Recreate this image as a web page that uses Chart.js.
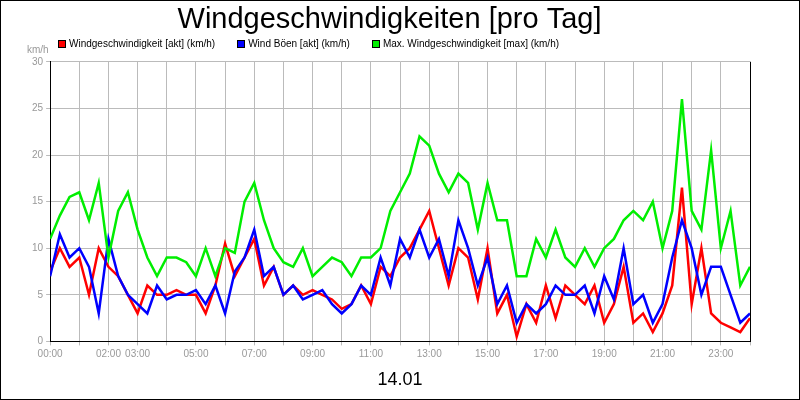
<!DOCTYPE html>
<html>
<head>
<meta charset="utf-8">
<script src="https://cdn.jsdelivr.net/npm/chart.js@4"></script>
<style>
  html, body { margin: 0; padding: 0; background: #fff; }
  #wrap { position: relative; width: 798px; height: 398px; border: 1px solid #000; }
  #unit { position: absolute; left: 26px; top: 43px; font: 10px Arial, "Liberation Sans", sans-serif; color: #999; }
  #legend { position: absolute; left: 57px; top: 37px; font: 10px Arial, "Liberation Sans", sans-serif; color: #000; }
  #legend span { margin-right: 22px; }
  #legend i { display: inline-block; width: 8px; height: 8px; margin-right: 3px; vertical-align: -1px; border: 1px solid #000; box-sizing: border-box; }
</style>
</head>
<body>
<div id="wrap">
  <canvas id="windChart" width="798" height="398"></canvas>
  <div id="unit">km/h</div>
  <div id="legend"></div>
</div>
<script>
  // 20-minute steps, 00:00 .. 24:00
  const hourLabels = ['00:00', '', '02:00', '03:00', '', '05:00', '', '07:00', '', '09:00', '', '11:00', '',
    '13:00', '', '15:00', '', '17:00', '', '19:00', '', '21:00', '', '23:00', ''];
  const windAvg = [7.5, 10, 8, 9, 5, 10, 8, 7, 5, 3, 6, 5, 5, 5.5, 5, 5, 3, 6, 10.5, 7, 9, 11, 6, 8,
    5, 6, 5, 5.5, 5, 4.5, 3.5, 4, 6, 4, 8, 7, 9, 10, 12, 14, 10, 6, 10, 9, 4.5, 10, 3, 5,
    0.5, 4, 2, 6, 2.5, 6, 5, 4, 6, 2, 4, 8, 2, 3, 1, 3, 6, 16.5, 4, 10, 3, 2, 1.5, 1, 2.5];
  const windGust = [7, 11.5, 9, 10, 8, 3, 11, 7, 5, 4, 3, 6, 4.5, 5, 5, 5.5, 4, 6, 3, 7.5, 9, 12, 7, 8,
    5, 6, 4.5, 5, 5.5, 4, 3, 4, 6, 5, 9, 6, 11, 9, 12, 9, 11, 7, 13, 10, 6, 9, 4, 6,
    2, 4, 3, 4, 6, 5, 5, 6, 3, 7, 4.5, 10, 4, 5, 2, 4, 9, 13, 10, 5, 8, 8, 5, 2, 3];
  const windMax = [11, 13.5, 15.5, 16, 13, 17, 9, 14, 16, 12, 9, 7, 9, 9, 8.5, 7, 10, 7, 10, 9.5, 15, 17, 13, 10,
    8.5, 8, 10, 7, 8, 9, 8.5, 7, 9, 9, 10, 14, 16, 18, 22, 21, 18, 16, 18, 17, 12, 17, 13, 13,
    7, 7, 11, 9, 12, 9, 8, 10, 8, 10, 11, 13, 14, 13, 15, 10, 14, 26, 14, 12, 20.5, 10, 14, 6, 8];

  const series = [
    { label: 'Windgeschwindigkeit [akt] (km/h)', values: windAvg, color: '#ff0000' },
    { label: 'Wind Böen [akt] (km/h)', values: windGust, color: '#0000ff' },
    { label: 'Max. Windgeschwindigkeit [max] (km/h)', values: windMax, color: '#00ee00' },
  ];

  document.getElementById('legend').innerHTML = series
    .map((s) => `<span><i style="background:${s.color}"></i>${s.label}</span>`)
    .join('');

  const toPoints = (values) => values.map((v, i) => ({ x: i / 3, y: v }));

  // right edge of plot area
  const rightEdge = {
    id: 'rightEdge',
    afterDraw(chart) {
      const { ctx, chartArea } = chart;
      ctx.save();
      ctx.strokeStyle = '#000';
      ctx.lineWidth = 1;
      ctx.beginPath();
      ctx.moveTo(chartArea.right + 0.5, chartArea.top);
      ctx.lineTo(chartArea.right + 0.5, chartArea.bottom);
      ctx.stroke();
      ctx.restore();
    },
  };

  Chart.defaults.font.family = 'Arial, "Liberation Sans", sans-serif';

  new Chart(document.getElementById('windChart'), {
    type: 'line',
    data: {
      datasets: series.map((s) => ({
        label: s.label,
        data: toPoints(s.values),
        borderColor: s.color,
        backgroundColor: s.color,
        borderWidth: 2.5,
        pointRadius: 0,
        tension: 0,
      })).reverse(),
    },
    plugins: [rightEdge],
    options: {
      responsive: false,
      animation: false,
      layout: { padding: { left: 28, right: 49, top: 0, bottom: 4 } },
      plugins: {
        title: {
          display: true,
          text: 'Windgeschwindigkeiten [pro Tag]',
          color: '#000',
          font: { size: 29, weight: 'normal' },
          padding: { top: 2, bottom: 24 },
        },
        legend: { display: false },
        tooltip: { enabled: false },
      },
      scales: {
        x: {
          type: 'linear',
          min: 0,
          max: 24,
          ticks: {
            stepSize: 1,
            autoSkip: false,
            maxRotation: 0,
            color: '#999',
            font: { size: 10 },
            callback: (value) => hourLabels[value] || '',
          },
          grid: { color: '#bbb', tickLength: 4 },
          border: { color: '#000', width: 1 },
          title: { display: true, text: '14.01', color: '#000', font: { size: 18 }, padding: { top: 6 } },
        },
        y: {
          min: 0,
          max: 30,
          ticks: { stepSize: 5, color: '#999', font: { size: 10 } },
          grid: { color: '#bbb', tickLength: 4 },
          border: { color: '#000', width: 1 },
        },
      },
    },
  });
</script>
</body>
</html>
